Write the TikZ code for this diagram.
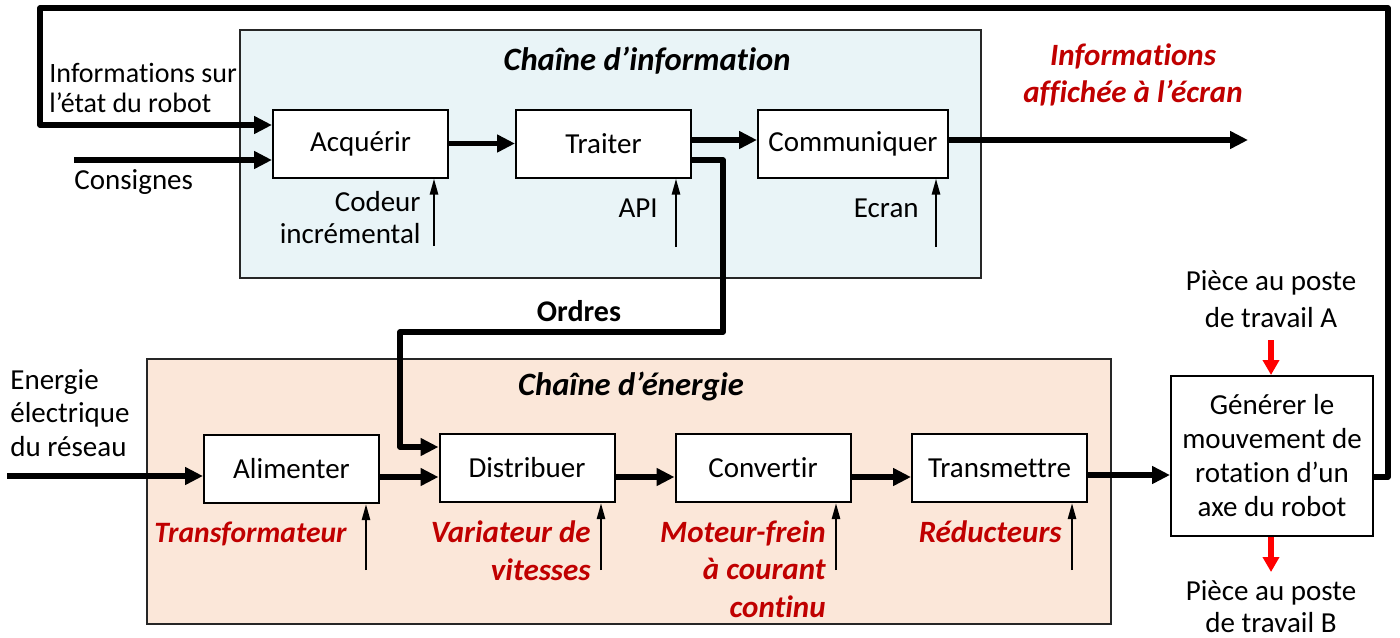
\documentclass[tikz,border=0pt]{standalone}
\usepackage{fontspec}
\setmainfont{Carlito}[Ligatures=NoCommon]
\usetikzlibrary{arrows.meta,calc}
\definecolor{infobg}{HTML}{E9F4F7}
\definecolor{enbg}{HTML}{FBE7D9}
\definecolor{darkred}{HTML}{C00000}
\definecolor{redarr}{HTML}{FF0000}
\tikzset{
  fn/.style={font=\fontsize{14.5}{17}\selectfont},
  blk/.style={draw, line width=1pt, fill=white, minimum width=87.5pt, minimum height=34pt, inner sep=0pt, fn},
  flow/.style={line width=2.6pt, line join=round, -{Triangle[length=9pt,width=8.5pt]}},
  sensor/.style={line width=1.2pt, -{Triangle[length=8pt,width=4pt]}},
  redflow/.style={draw=redarr, line width=3pt, -{Triangle[length=7.5pt,width=8pt]}},
  chainbox/.style={draw=black!85, line width=1pt},
  lbl/.style={inner sep=0pt, fn},
  redlbl/.style={inner sep=0pt, text=darkred, font=\fontsize{15.5}{18.5}\selectfont\bfseries\itshape},
  ttl/.style={inner sep=0pt, font=\fontsize{16.3}{18}\selectfont\bfseries\itshape},
}
\begin{document}
\begin{tikzpicture}[x=0.5pt,y=-0.5pt]
\useasboundingbox (0,0) rectangle (1400,637);
% chain backgrounds
\draw[chainbox, fill=infobg] (240,30) rectangle (981,278);
\draw[chainbox, fill=enbg] (147,359) rectangle (1111,624);
% titles
\node[ttl, anchor=base] (tinfo) at (647,70) {Chaîne d’information};
\node[ttl, anchor=base] (ten) at (631,395) {Chaîne d’énergie};
% information chain blocks
\node[blk] (acq) at (360.5,143.5) {Acquérir};
\node[blk] (tra) at (603.5,143.5) {Traiter};
\node[blk, minimum width=95pt] (com) at (853,143.5) {Communiquer};
% energy chain blocks
\node[blk] (ali) at (291.5,469) {Alimenter};
\node[blk] (dis) at (527,468) {Distribuer};
\node[blk] (con) at (763,468) {Convertir};
\node[blk] (trm) at (999.5,468) {Transmettre};
\node[blk, minimum width=101pt, minimum height=80pt, align=center, font=\fontsize{14.5}{17}\selectfont] (gen) at (1272,456)
  {Générer le\\mouvement de\\rotation d’un\\axe du robot};
% coordinates for free ends and corners
\coordinate (fb1) at (1388,8);
\coordinate (fb2) at (40,125);
\coordinate (cons) at (74,160);
\coordinate (ord1) at (723,332);
\coordinate (ord2) at (400,447);
\coordinate (infout) at (1248,140);
\coordinate (enin) at (7,476);
\coordinate (sA) at (434,246);
\coordinate (sT) at (676,247);
\coordinate (sC) at (936,247);
\coordinate (sAl) at (366,570);
\coordinate (sD) at (601,570);
\coordinate (sCv) at (836,570);
\coordinate (sTr) at (1072,570);
\coordinate (pA) at (1271,340);
\coordinate (pB) at (1271,572);
% information flows
\draw[flow] ([yshift=-10.5pt]gen.east) -| (fb1) -| (fb2) -- (fb2 -| acq.west);
\draw[flow] (cons) -- (cons -| acq.west);
\draw[flow] (acq.east) -- (tra.west);
\draw[flow] ([yshift=1.75pt]tra.east) -- ([yshift=1.75pt]tra.east -| com.west);
\draw[flow] ([yshift=1.75pt]com.east) -- (infout);
\draw[flow] ([yshift=-8.25pt]tra.east) -| (ord1) -| (ord2) -- (ord2 -| dis.west);
% energy flows
\draw[flow] (enin) -- (enin -| ali.west);
\draw[flow] ([yshift=-4pt]ali.east) -- ([yshift=-4pt]ali.east -| dis.west);
\draw[flow] ([yshift=-4.5pt]dis.east) -- ([yshift=-4.5pt]dis.east -| con.west);
\draw[flow] ([yshift=-4.5pt]con.east) -- ([yshift=-4.5pt]con.east -| trm.west);
\draw[flow] ([yshift=-3.5pt]trm.east) -- ([yshift=-3.5pt]trm.east -| gen.west);
% sensor arrows
\draw[sensor] (sA) -- (sA |- acq.south);
\draw[sensor] (sT) -- (sT |- tra.south);
\draw[sensor] (sC) -- (sC |- com.south);
\draw[sensor] (sAl) -- (sAl |- ali.south);
\draw[sensor] (sD) -- (sD |- dis.south);
\draw[sensor] (sCv) -- (sCv |- con.south);
\draw[sensor] (sTr) -- (sTr |- trm.south);
% red arrows
\draw[redflow] (pA) -- (pA |- gen.north);
\draw[redflow] (pB |- gen.south) -- (pB);
% labels (base anchor = baseline of last line)
\node[lbl, anchor=base west, align=left, font=\fontsize{14}{15}\selectfont] (linfo) at (49,112) {Informations sur\\l’état du robot};
\node[lbl, anchor=base west] (lcons) at (74,189) {Consignes};
\node[lbl, anchor=base east, align=right, font=\fontsize{14.5}{16}\selectfont] (lcod) at (421,243) {Codeur\\incrémental};
\node[lbl, anchor=base east] (lapi) at (658,217) {API};
\node[lbl, anchor=base east] (lecr) at (919,217) {Ecran};
\node[lbl, anchor=base, font=\fontsize{15}{17}\selectfont\bfseries] (lord) at (579,321) {Ordres};
\node[redlbl, anchor=base, align=center] (laff) at (1133,102) {Informations\\affichée à l’écran};
\node[lbl, anchor=base, align=center, font=\fontsize{14.5}{18.5}\selectfont] (lpa) at (1271,327) {Pièce au poste\\de travail A};
\node[lbl, anchor=base, align=center, font=\fontsize{14.5}{16}\selectfont] (lpb) at (1271,632) {Pièce au poste\\de travail B};
\node[lbl, anchor=base west, align=left, font=\fontsize{14.5}{16.75}\selectfont] (lene) at (10,456) {Energie\\électrique\\du réseau};
\node[redlbl, anchor=base east, font=\fontsize{14.8}{18}\selectfont\bfseries\itshape] (ltra) at (347,542) {Transformateur};
\node[redlbl, anchor=base east, align=right, font=\fontsize{15.5}{19}\selectfont\bfseries\itshape] (lvar) at (591,580) {Variateur de\\vitesses};
\node[redlbl, anchor=base east, align=right, font=\fontsize{15.5}{18.75}\selectfont\bfseries\itshape] (lmot) at (826,617) {Moteur-frein\\à courant\\continu};
\node[redlbl, anchor=base east] (lred) at (1062,542) {Réducteurs};
\end{tikzpicture}
\end{document}
